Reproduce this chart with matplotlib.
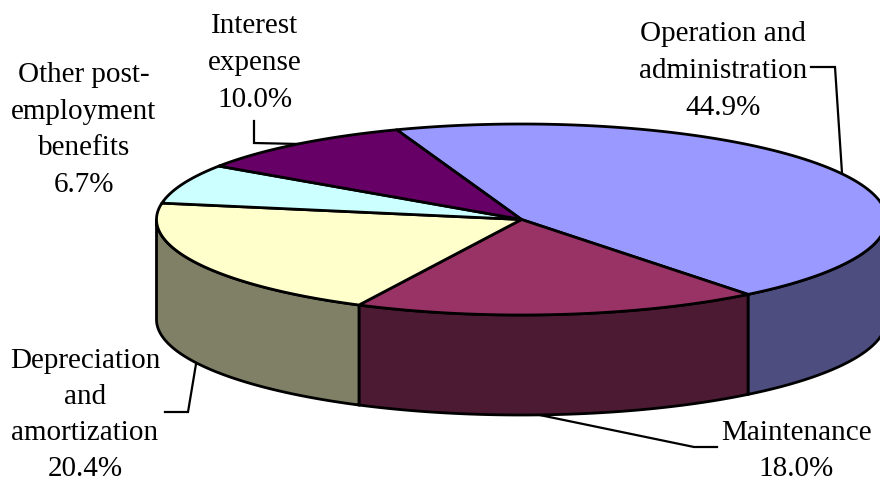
import numpy as np
import matplotlib
matplotlib.use('Agg')
import matplotlib.pyplot as plt
from matplotlib.patches import Polygon

# slices, clockwise from the top
labels = ['Operation and\nadministration\n44.9%', 'Maintenance\n18.0%',
          'Depreciation\nand\namortization\n20.4%', 'Other post-\nemployment\nbenefits\n6.7%',
          'Interest\nexpense\n10.0%']
values = [44.9, 18.0, 20.4, 6.7, 10.0]
top_colors = ['#9999FF', '#993366', '#FFFFCC', '#CCFFFF', '#660066']
side_colors = ['#4D4D80', '#4D1A33', '#808066', '#668080', '#330033']

# pie geometry in pixels
cx, cy = 521.5, 220.5
rx, ry = 365, 95.5
depth = 100
start = 110

label_pos = [(723, 71), (796, 451), (85, 415), (84, 130), (255, 63)]
leaders = [[(811, 68), (835, 68), (842, 174)],
           [(530, 414), (694, 448), (717, 448)],
           [(165, 413), (188, 413), (196, 365)],
           [(254, 122), (254, 144), (300, 145)]]

plt.rcParams['font.family'] = 'Liberation Serif'
fig = plt.figure(figsize=(8.8, 4.81), dpi=100)
ax = fig.add_axes([0, 0, 1, 1])
ax.set_xlim(0, 880)
ax.set_ylim(481, 0)
ax.axis('off')


def arc(a0, a1, dy=0):
    t = np.radians(np.linspace(a0, a1, 200))
    return np.column_stack([cx + rx * np.cos(t), cy - ry * np.sin(t) + dy])


for pts in leaders:
    xs, ys = zip(*pts)
    ax.plot(xs, ys, color='black', lw=1.6, solid_joinstyle='miter', zorder=1)

angle = start
for val, top, side in zip(values, top_colors, side_colors):
    end = angle - val * 3.6
    # the part of the rim that faces the viewer, between -180 and 0 degrees
    a0 = min(angle if angle <= 180 else angle - 360, 0)
    a1 = max(end, -180)
    if a0 > a1:
        rim = np.vstack([arc(a0, a1), arc(a1, a0, depth)])
        ax.add_patch(Polygon(rim, closed=True, fc=side, ec='black', lw=2.0, zorder=2))
    wedge = np.vstack([[(cx, cy)], arc(angle, end)])
    ax.add_patch(Polygon(wedge, closed=True, fc=top, ec='black', lw=2.0, zorder=3, joinstyle='round'))
    angle = end

for text, (x, y) in zip(labels, label_pos):
    ax.text(x, y, text, ha='center', va='center', fontsize=21, color='black',
            linespacing=1.54 if y != 415 else 1.5, zorder=5)

fig.savefig('out.png', dpi=100)
